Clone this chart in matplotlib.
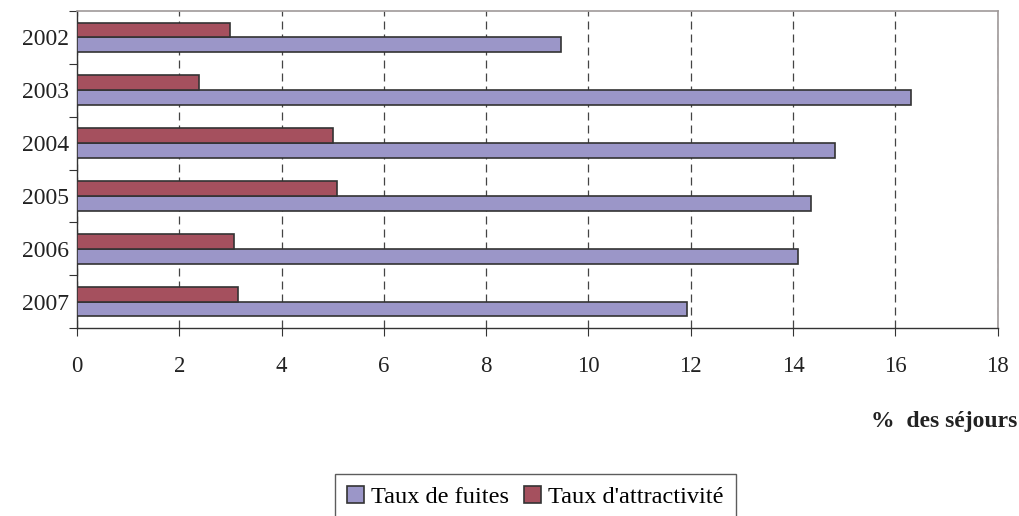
import numpy as np
import matplotlib.pyplot as plt

plt.rcParams['font.family'] = ['Liberation Serif', 'DejaVu Serif']

years = ["2002", "2003", "2004", "2005", "2006", "2007"]
taux_fuites = [9.46, 16.3, 14.82, 14.36, 14.1, 11.93]
taux_attractivite = [3.0, 2.38, 5.0, 5.09, 3.07, 3.15]

col_fuites = "#9B96C8"
col_attr = "#A5505E"
edge = "#333333"

fig = plt.figure(figsize=(10.2, 5.16), dpi=100)
ax = fig.add_axes([0.0755, 0.3643, 0.9025, 0.6144])

y = np.arange(len(years))
h = 0.28
ax.barh(y + h / 2, taux_fuites, height=h, color=col_fuites, edgecolor=edge,
        linewidth=1.2, label="Taux de fuites", zorder=3)
ax.barh(y - h / 2, taux_attractivite, height=h, color=col_attr, edgecolor=edge,
        linewidth=1.2, label="Taux d'attractivité", zorder=3)

ax.set_xlim(0, 18)
ax.set_ylim(len(years) - 0.5, -0.5)
ax.set_xticks(np.arange(0, 19, 2))
ax.tick_params(axis='x', labelsize=16.5, length=6, direction='out', pad=14,
               color="#333333", labelcolor="#222222")

# category boundaries as ticks, labels at centers
ax.set_yticks(np.arange(-0.5, len(years), 1))
ax.set_yticklabels([])
ax.set_yticks(y, minor=True)
ax.set_yticklabels(years, minor=True, fontsize=17, color="#222222")
ax.tick_params(axis='y', which='major', length=6, color="#333333")
ax.tick_params(axis='y', which='minor', length=0, pad=6)

ax.xaxis.grid(True, linestyle=(0, (6.4, 4)), color="#444444", linewidth=0.9, zorder=0)
ax.set_axisbelow(True)

for s in ["top", "right"]:
    ax.spines[s].set_color("#A09A9A")
    ax.spines[s].set_linewidth(1.2)
for s in ["left", "bottom"]:
    ax.spines[s].set_color("#333333")
    ax.spines[s].set_linewidth(1.0)

fig.text(0.997, 0.184, "%  des séjours", ha="right", va="center",
         fontsize=17, fontweight="bold", color="#222222")

handles, labels = ax.get_legend_handles_labels()
leg = fig.legend(handles, labels, loc="upper center", bbox_to_anchor=(0.525, 0.0814),
                 ncol=2, fontsize=17.5, frameon=True, fancybox=False,
                 handlelength=0.7, handleheight=0.7, handletextpad=0.3,
                 columnspacing=0.6, borderpad=0.5, borderaxespad=0,
                 edgecolor="#333333")
leg.get_frame().set_linewidth(1.0)

fig.savefig("out.png", dpi=100)
